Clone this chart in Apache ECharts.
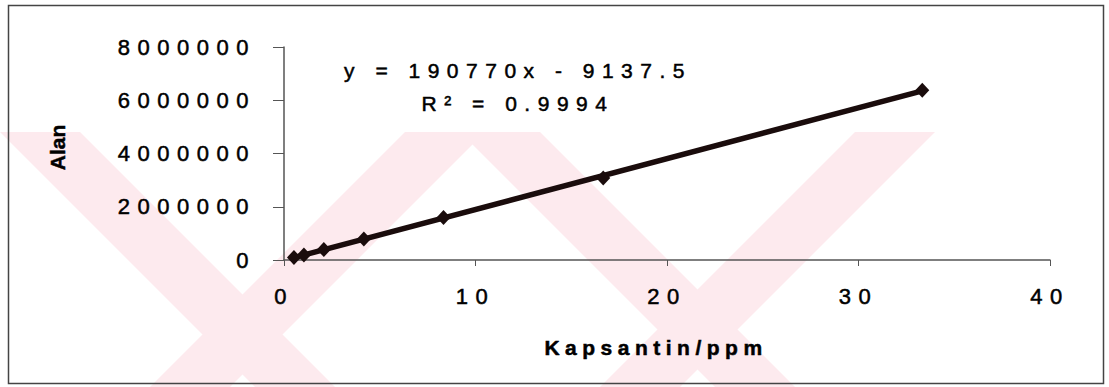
<!DOCTYPE html>
<html>
<head>
<meta charset="utf-8">
<title>Kapsantin kalibrasyon eğrisi</title>
<script src="https://cdn.jsdelivr.net/npm/echarts@6/dist/echarts.min.js"></script>
<style>
  html, body { margin: 0; padding: 0; background: #ffffff; }
  #chart { width: 1109px; height: 387px; }
  /* wide, typewriter-like spacing of the chart lettering */
  #chart svg text { letter-spacing: 7.5px; }
  #chart svg text[style*="family:Arial"] { letter-spacing: 6.5px; }
  #chart svg text[style*="bold"] { letter-spacing: 5.5px; }
  #chart svg text[style*="Helvetica"] { letter-spacing: 0; }
</style>
</head>
<body>
<div id="chart"></div>
<script>
// Calibration standards: concentration (ppm) and peak area
const concentrations = [0.52, 1.04, 2.08, 4.17, 8.33, 16.67, 33.33];
const areas = [95000, 190000, 390000, 790000, 1600000, 3080000, 6380000];

// Axis ticks
const xTicks = [0, 10, 20, 30, 40];
const yTicks = [0, 2000000, 4000000, 6000000, 8000000];

// Linear fit
const slope = 190770;
const intercept = -9137.5;
const rSquared = 0.9994;

const ink = '#1a0c0c';
const labelFont = '"Liberation Sans", Arial, sans-serif';
const equationFont = 'Arial, "Liberation Sans", sans-serif';
// a hairline outline gives the lettering a slightly heavier stroke
const heavy = { textBorderColor: '#000', textBorderWidth: 0.5 };

const points = concentrations.map((c, i) => [c, areas[i]]);
const xFirst = concentrations[0];
const xLast = concentrations[concentrations.length - 1];
const fitLine = [
  [xFirst, slope * xFirst + intercept],
  [xLast, slope * xLast + intercept]
];

const equationText =
  'y = ' + slope + 'x - ' + Math.abs(intercept) + '\n' +
  'R\u00B2 = ' + rSquared;

// faint diagonal bands behind the plot
const bandColor = '#fdeaee';
function band(topLeft, bottomLeft, w) {
  return {
    type: 'polygon',
    silent: true,
    z: -10,
    shape: { points: [[topLeft, 132], [topLeft + w, 132], [bottomLeft + w, 387], [bottomLeft, 387]] },
    style: { fill: bandColor }
  };
}

const chart = echarts.init(document.getElementById('chart'), null, { renderer: 'svg' });

chart.setOption({
  animation: false,
  backgroundColor: '#ffffff',
  grid: { left: 284, right: 59, top: 47, bottom: 127 },
  xAxis: {
    type: 'value',
    min: xTicks[0],
    max: xTicks[xTicks.length - 1],
    interval: xTicks[1] - xTicks[0],
    name: 'Kapsantin/ppm',
    nameLocation: 'middle',
    nameGap: 77,
    nameTextStyle: Object.assign({ fontFamily: labelFont, fontWeight: 'bold', fontSize: 21, color: '#000', padding: [0, 22, 0, 0] }, heavy),
    axisLine: { lineStyle: { color: '#555', width: 1.5 } },
    axisTick: { show: true, inside: false, length: 6, lineStyle: { color: '#555', width: 1 } },
    axisLabel: Object.assign({ margin: 25, fontFamily: labelFont, fontSize: 22, color: '#000' }, heavy),
    splitLine: { show: false }
  },
  yAxis: {
    type: 'value',
    min: yTicks[0],
    max: yTicks[yTicks.length - 1],
    interval: yTicks[1] - yTicks[0],
    name: 'Alan',
    nameLocation: 'middle',
    nameRotate: 90,
    nameGap: 216,
    nameTextStyle: Object.assign({ fontFamily: 'Helvetica, "Liberation Sans", Arial', fontWeight: 'bold', fontSize: 21, color: '#000', padding: [0, 0, 0, 12] }, heavy),
    axisLine: { show: true, lineStyle: { color: '#555', width: 1.5 } },
    axisTick: { show: true, inside: false, length: 11, lineStyle: { color: '#555', width: 1 } },
    axisLabel: Object.assign({
      margin: 28,
      fontFamily: labelFont,
      fontSize: 22,
      color: '#000',
      formatter: (v) => String(v)
    }, heavy),
    splitLine: { show: false }
  },
  graphic: [
    band(0, 255, 80),
    band(460, 715, 80),
    band(405, 150, 80),
    band(855, 600, 80),
    {
      type: 'text',
      x: 518,
      y: 54,
      z: 50,
      style: Object.assign({
        text: equationText,
        fontFamily: equationFont,
        fontSize: 21,
        lineHeight: 33,
        fill: '#000',
        textAlign: 'center',
        textVerticalAlign: 'top'
      }, { stroke: '#000', lineWidth: 0.5 })
    },
    {
      type: 'rect',
      z: 100,
      silent: true,
      shape: { x: 8.5, y: 5.5, width: 1095, height: 378 },
      style: { fill: 'none', stroke: '#444', lineWidth: 1.5 }
    }
  ],
  series: [
    {
      name: 'Doğrusal uyum',
      type: 'line',
      data: fitLine,
      showSymbol: false,
      lineStyle: { color: ink, width: 5.5 },
      z: 3
    },
    {
      name: 'Standartlar',
      type: 'line',
      data: points,
      symbol: 'diamond',
      symbolSize: [14, 15],
      lineStyle: { width: 0, opacity: 0 },
      itemStyle: { color: ink },
      z: 4
    }
  ]
});
</script>
</body>
</html>
